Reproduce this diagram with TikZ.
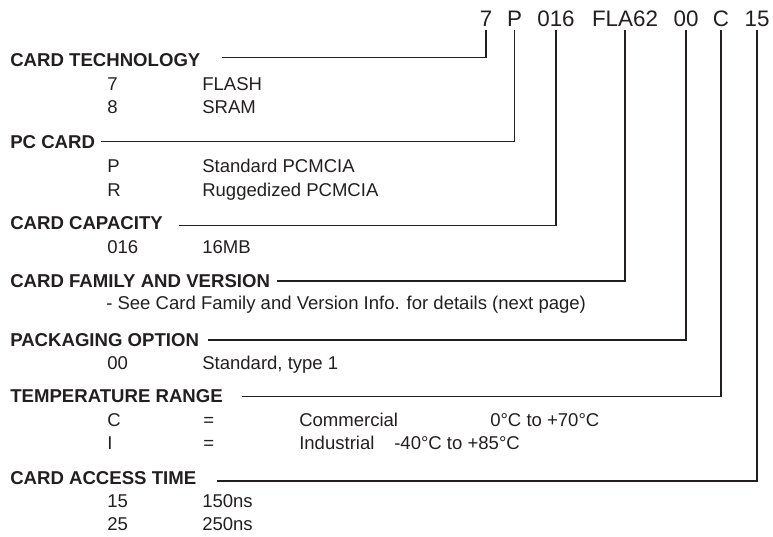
\documentclass[tikz,border=0pt]{standalone}
\usepackage{fontspec}
\setmainfont{Liberation Sans}
\definecolor{ink}{HTML}{231F20}
\tikzset{
  hd/.style={anchor=base west, inner sep=0pt, font=\bfseries\fontsize{13.95}{16}\selectfont, text=ink},
  tx/.style={anchor=base west, inner sep=0pt, font=\fontsize{13.9}{16}\selectfont, text=ink},
  cd/.style={anchor=base, inner xsep=0pt, inner ysep=2.4pt, font=\fontsize{16.8}{20}\selectfont, text=ink},
  ln/.style={draw=ink, line width=0.8pt}
}
\begin{document}
\begin{tikzpicture}[x=0.75pt, y=-0.75pt]
\useasboundingbox (0,0) rectangle (773,536);
% code
\node[cd] (k7) at (486,26.7) {7};
\node[cd] (kP) at (514.5,26.7) {P};
\node[cd] (k016) at (556,26.7) {016};
\node[cd] (kFLA) at (625,26.7) {FLA62};
\node[cd] (k00) at (686,26.7) {00};
\node[cd] (kC) at (721,26.7) {C};
\node[cd] (k15) at (757,26.7) {15};
% headings
\node[hd] (ct) at (10,66) {CARD TECHNOLOGY};
\node[hd] (pc) at (10,148.3) {PC CARD};
\node[hd] (cc) at (10,229) {CARD CAPACITY};
\node[hd] (cf) at (10,287) {CARD FAMILY AND VERSION};
\node[hd] (po) at (10,346) {PACKAGING OPTION};
\node[hd] (tr) at (10,402) {TEMPERATURE RANGE};
\node[hd] (cat) at (10,484) {CARD ACCESS TIME};
% entries
\node[tx] (e7a) at (107,90) {7};
\node[tx] (e7b) at (202,90) {FLASH};
\node[tx] (e8a) at (107,113.3) {8};
\node[tx] (e8b) at (202,113.3) {SRAM};
\node[tx] (ePa) at (107,172) {P};
\node[tx] (ePb) at (202,172) {Standard PCMCIA};
\node[tx] (eRa) at (107,196) {R};
\node[tx] (eRb) at (202,196) {Ruggedized PCMCIA};
\node[tx] (e16a) at (107,253) {016};
\node[tx] (e16b) at (202,253) {16MB};
\node[tx] (esee) at (106,309) {- See Card Family and Version Info. for details (next page)};
\node[tx] (e00a) at (107,369) {00};
\node[tx] (e00b) at (202,369) {Standard, type 1};
\node[tx] (eCa) at (107,426.5) {C};
\node[tx] (eCb) at (203,426.5) {=};
\node[tx] (eCc) at (299,426.5) {Commercial};
\node[tx] (eCd) at (490,426.5) {0°C to +70°C};
\node[tx] (eIa) at (107,449.5) {I};
\node[tx] (eIb) at (203,449.5) {=};
\node[tx] (eIc) at (299,449.5) {Industrial};
\node[tx] (eId) at (394,449.5) {-40°C to +85°C};
\node[tx] (e15a) at (107,507) {15};
\node[tx] (e15b) at (202,507) {150ns};
\node[tx] (e25a) at (107,530) {25};
\node[tx] (e25b) at (202,530) {250ns};
% line starts
\coordinate (ctL) at (221.7,57.5);
\coordinate (pcL) at (100.7,141.7);
\coordinate (ccL) at (179,225.7);
\coordinate (cfL) at (277,281);
\coordinate (poL) at (208,340);
\coordinate (trL) at (242,396.7);
\coordinate (catL) at (217,481);
% connectors
\draw[ln] (ctL) -| (k7.south);
\draw[ln] (pcL) -| (kP.south);
\draw[ln] (ccL) -| (k016.south);
\draw[ln] (cfL) -| (kFLA.south);
\draw[ln] (poL) -| (k00.south);
\draw[ln] (trL) -| (kC.south);
\draw[ln] (catL) -| (k15.south);
\end{tikzpicture}
\end{document}
